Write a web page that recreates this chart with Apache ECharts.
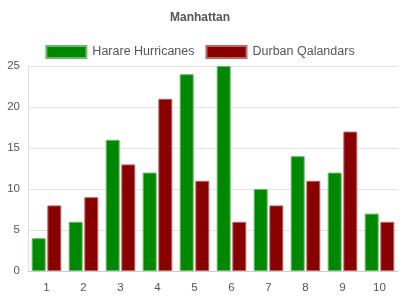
<!DOCTYPE html>
<html><head><meta charset="utf-8">
<script src="https://cdn.jsdelivr.net/npm/echarts@6/dist/echarts.min.js"></script>
<style>html,body{margin:0;padding:0;background:#fff}#c{width:400px;height:300px}</style>
</head><body><div id="c"></div>
<script>
const categories = ['1','2','3','4','5','6','7','8','9','10'];
const harare = [4,6,16,12,24,25,10,14,12,7];
const durban = [8,9,13,21,11,6,8,11,17,6];
const seriesNames = ['Harare Hurricanes','Durban Qalandars'];
const yTicks = [0,5,10,15,20,25];

const chart = echarts.init(document.getElementById('c'), null, {renderer:'canvas'});
const font = 'Liberation Sans, Arial, sans-serif';
chart.setOption({
  animation:false,
  title:{text:'Manhattan',left:'center',top:7,textStyle:{fontFamily:font,fontSize:12,fontWeight:'bold',color:'#555'}},
  legend:{top:40,left:'center',itemWidth:40,itemHeight:12,itemGap:11,icon:'rect',
    textStyle:{fontFamily:font,fontSize:12.5,color:'#555',padding:[0,0,0,1]},
    data:seriesNames},
  grid:{left:28,right:2,top:66,bottom:29,containLabel:false},
  xAxis:{type:'category',data:categories,
    axisLine:{lineStyle:{color:'#ccc'}},
    axisTick:{lineStyle:{color:'#ccc'},length:8},
    axisLabel:{fontFamily:font,fontSize:11.5,color:'#555',margin:11}},
  yAxis:{type:'value',min:yTicks[0],max:yTicks[yTicks.length-1],interval:5,
    axisLine:{show:true,lineStyle:{color:'#e0e0e0'}},
    splitLine:{lineStyle:{color:'#e3e3e3'}},
    axisLabel:{fontFamily:font,fontSize:11.5,color:'#555',margin:8}},
  series:[
    {name:seriesNames[0],type:'bar',data:harare,barGap:'12%',barCategoryGap:'20%',
      itemStyle:{color:'#008800',borderColor:'#66bb66',borderWidth:1}},
    {name:seriesNames[1],type:'bar',data:durban,
      itemStyle:{color:'#880000',borderColor:'#bb6666',borderWidth:1}}
  ]
});
</script></body></html>
